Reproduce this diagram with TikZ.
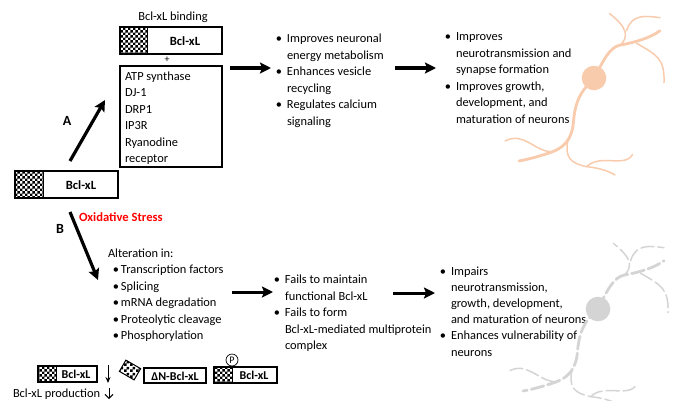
\documentclass[tikz,border=0pt]{standalone}
\usepackage{fontspec}
\setmainfont{Carlito}
\usetikzlibrary{patterns,arrows.meta}
\pgfdeclarepatternformonly{finechk}{\pgfqpoint{0pt}{0pt}}{\pgfqpoint{5.4pt}{5.4pt}}{\pgfqpoint{5.4pt}{5.4pt}}{%
  \pgfpathrectangle{\pgfqpoint{0pt}{0pt}}{\pgfqpoint{2.7pt}{2.7pt}}%
  \pgfpathrectangle{\pgfqpoint{2.7pt}{2.7pt}}{\pgfqpoint{2.7pt}{2.7pt}}%
  \pgfusepath{fill}}
\newcommand{\bul}{\leavevmode\llap{\textbullet\hspace{5pt}}}
\newcommand{\bulb}{\leavevmode\llap{\textbullet\hspace{2pt}}}
\newcommand{\neuronpaths}[2]{%
  \begin{scope}[shift={#1},x=0.3333pt,y=-0.3333pt,#2]
    \draw[nthick] (283,235) .. controls (310,180) and (330,140) .. (362,135) .. controls (400,128) and (450,115) .. (480,92);
    \draw[nthin] (362,135) .. controls (385,110) and (385,85) .. (328,40);
    \draw[nthin] (380,92) .. controls (395,40) and (440,48) .. (480,53);
    \draw[nthin] (410,130) .. controls (470,165) and (495,175) .. (492,248);
    \draw[nthick] (283,235) .. controls (245,270) and (225,300) .. (220,370) .. controls (215,420) and (190,445) .. (150,458) .. controls (120,468) and (90,477) .. (57,483);
    \draw[nthin] (150,455) .. controls (100,450) and (70,395) .. (15,423);
    \draw[nthin] (203,425) .. controls (195,470) and (210,490) .. (260,500) .. controls (290,503) and (320,510) .. (345,525);
    \draw[nthin] (260,500) .. controls (300,460) and (375,505) .. (398,463);
  \end{scope}}
\tikzset{
  x=1pt,y=-1pt,
  every node/.style={font=\fontsize{12.4}{16.5}\selectfont,inner sep=0pt,outer sep=0pt},
  boxed/.style={draw=black,line width=1.4pt,fill=white,minimum height=#1,anchor=north west},
  boxed/.default=27pt,
  chk/.style={draw=black,line width=0.6pt,pattern=finechk,pattern color=black,anchor=north west},
  lbl/.style={font=\fontsize{12.6}{12.6}\selectfont\bfseries},
  smlbl/.style={font=\fontsize{12}{12}\selectfont\bfseries},
  txt/.style={align=left,anchor=north west},
  bigarrow/.style={-{Stealth[length=11pt,width=11pt,inset=2pt]},line width=3.2pt,black},
  nthick/.style={line width=2.8pt,line cap=round},
  nthin/.style={line width=1.5pt,line cap=round},
}
\begin{document}
\begin{tikzpicture}
\useasboundingbox (0,0) rectangle (675,400);
% top Bcl-xL
\node (bindlabel) at (173,17) {Bcl-xL binding};
\node[boxed,minimum width=102pt] (topbox) at (120,27) {};
\node[chk,minimum width=27pt,minimum height=27pt] (topchk) at (120,27) {};
\node[lbl] (toplbl) at (185,41) {Bcl-xL};
\node (plus) at (167,59.5) {\fontsize{10}{10}\selectfont +};
\node[boxed=101pt,minimum width=102pt] (listbox) at (120,66) {};
\node[txt] (listtxt) at (125,71.5) {ATP synthase\\DJ-1\\DRP1\\IP3R\\Ryanodine\\receptor};
% source
\node[boxed,minimum width=103pt] (srcbox) at (15,171) {};
\node[chk,minimum width=28pt,minimum height=27pt] (srcchk) at (15,171) {};
\node[lbl] (srclbl) at (81,185) {Bcl-xL};
\coordinate (a0) at (70,161); \coordinate (a1) at (105,100);
\draw[bigarrow] (a0) -- (a1);
\node[lbl,font=\fontsize{14}{14}\selectfont\bfseries] (A) at (67,121) {A};
\coordinate (b0) at (70,212); \coordinate (b1) at (98,280);
\draw[bigarrow] (b0) -- (b1);
\node[lbl,font=\fontsize{14}{14}\selectfont\bfseries] (B) at (60,229) {B};
\node[lbl,text=red,anchor=west] (ox) at (79,217) {Oxidative Stress};
% texts top
\node[txt] (t1) at (287,34) {\bul Improves neuronal\\energy metabolism\\\bul Enhances vesicle\\recycling\\\bul Regulates calcium\\signaling};
\node[txt] (t2) at (456,33) {\bul Improves\\neurotransmission and\\synapse formation\\\bul Improves growth,\\development, and\\maturation of neurons};
\coordinate (h1a) at (230,68); \coordinate (h1b) at (271,68);
\coordinate (h2a) at (395,68); \coordinate (h2b) at (436,68);
\draw[bigarrow] (h1a) -- (h1b);
\draw[bigarrow] (h2a) -- (h2b);
% texts bottom
\node[txt] (t3head) at (108,249) {Alteration in:};
\node[txt] (t3) at (121,265) {\bulb Transcription factors\\\bulb Splicing\\\bulb mRNA degradation\\\bulb Proteolytic cleavage\\\bulb Phosphorylation};
\node[txt] (t4) at (285,275) {\bul Fails to maintain\\functional Bcl-xL\\\bul Fails to form\\Bcl-xL-mediated multiprotein\\complex};
\node[txt,font=\fontsize{12.4}{16.1}\selectfont] (t5) at (451,267) {\bul Impairs\\neurotransmission,\\growth, development,\\and maturation of neurons\\\bul Enhances vulnerability of\\neurons};
\coordinate (h3a) at (232,292); \coordinate (h3b) at (273,292);
\coordinate (h4a) at (393,293); \coordinate (h4b) at (435,293);
\draw[bigarrow,line width=3pt] (h3a) -- (h3b);
\draw[bigarrow,line width=3pt] (h4a) -- (h4b);
% bottom row
\node[boxed=16pt,minimum width=59pt,line width=1.2pt] (b1box) at (38,366) {};
\node[chk,minimum width=18pt,minimum height=16pt] (b1chk) at (38,366) {};
\node[smlbl] (b1lbl) at (76,374) {Bcl-xL};
\coordinate (d0) at (108,365); \coordinate (d1) at (108,383);
\draw[-{Stealth[length=6pt,width=5pt]},line width=1pt] (d0) -- (d1);
\node[chk,rotate=-30,anchor=center,minimum width=17pt,minimum height=13pt,line width=1pt] (frag) at (130,370) {};
\node[boxed=15pt,minimum width=62pt,line width=1.2pt] (dnbox) at (144,368) {};
\node[smlbl] (dnlbl) at (175,376) {ΔN-Bcl-xL};
\node[boxed=16pt,minimum width=63pt,line width=1.2pt] (pbox) at (214,367) {};
\node[chk,minimum width=18pt,minimum height=16pt] (pchk) at (214,367) {};
\node[smlbl] (plbl) at (254,375) {Bcl-xL};
\node[draw=black,circle,line width=0.7pt,minimum size=12pt,font=\fontsize{10}{10}\selectfont] (pcirc) at (232,360) {P};
\node[anchor=west] (prod) at (13,394) {Bcl-xL production};
\coordinate (p0) at (109,388); \coordinate (p1) at (109,399);
\draw[-{Straight Barb[length=4pt,width=8pt]},line width=1pt] (p0) -- (p1);
% neurons
\definecolor{peach}{HTML}{F8CBAD}
\definecolor{ngray}{HTML}{D4D4D4}
\neuronpaths{(500,0)}{draw=peach}
\fill[peach] (594,78) circle (12.3pt);
\neuronpaths{(504,230)}{draw=ngray,dash pattern=on 13pt off 4pt}
\fill[ngray] (598,309) circle (12.3pt);
\end{tikzpicture}
\end{document}
